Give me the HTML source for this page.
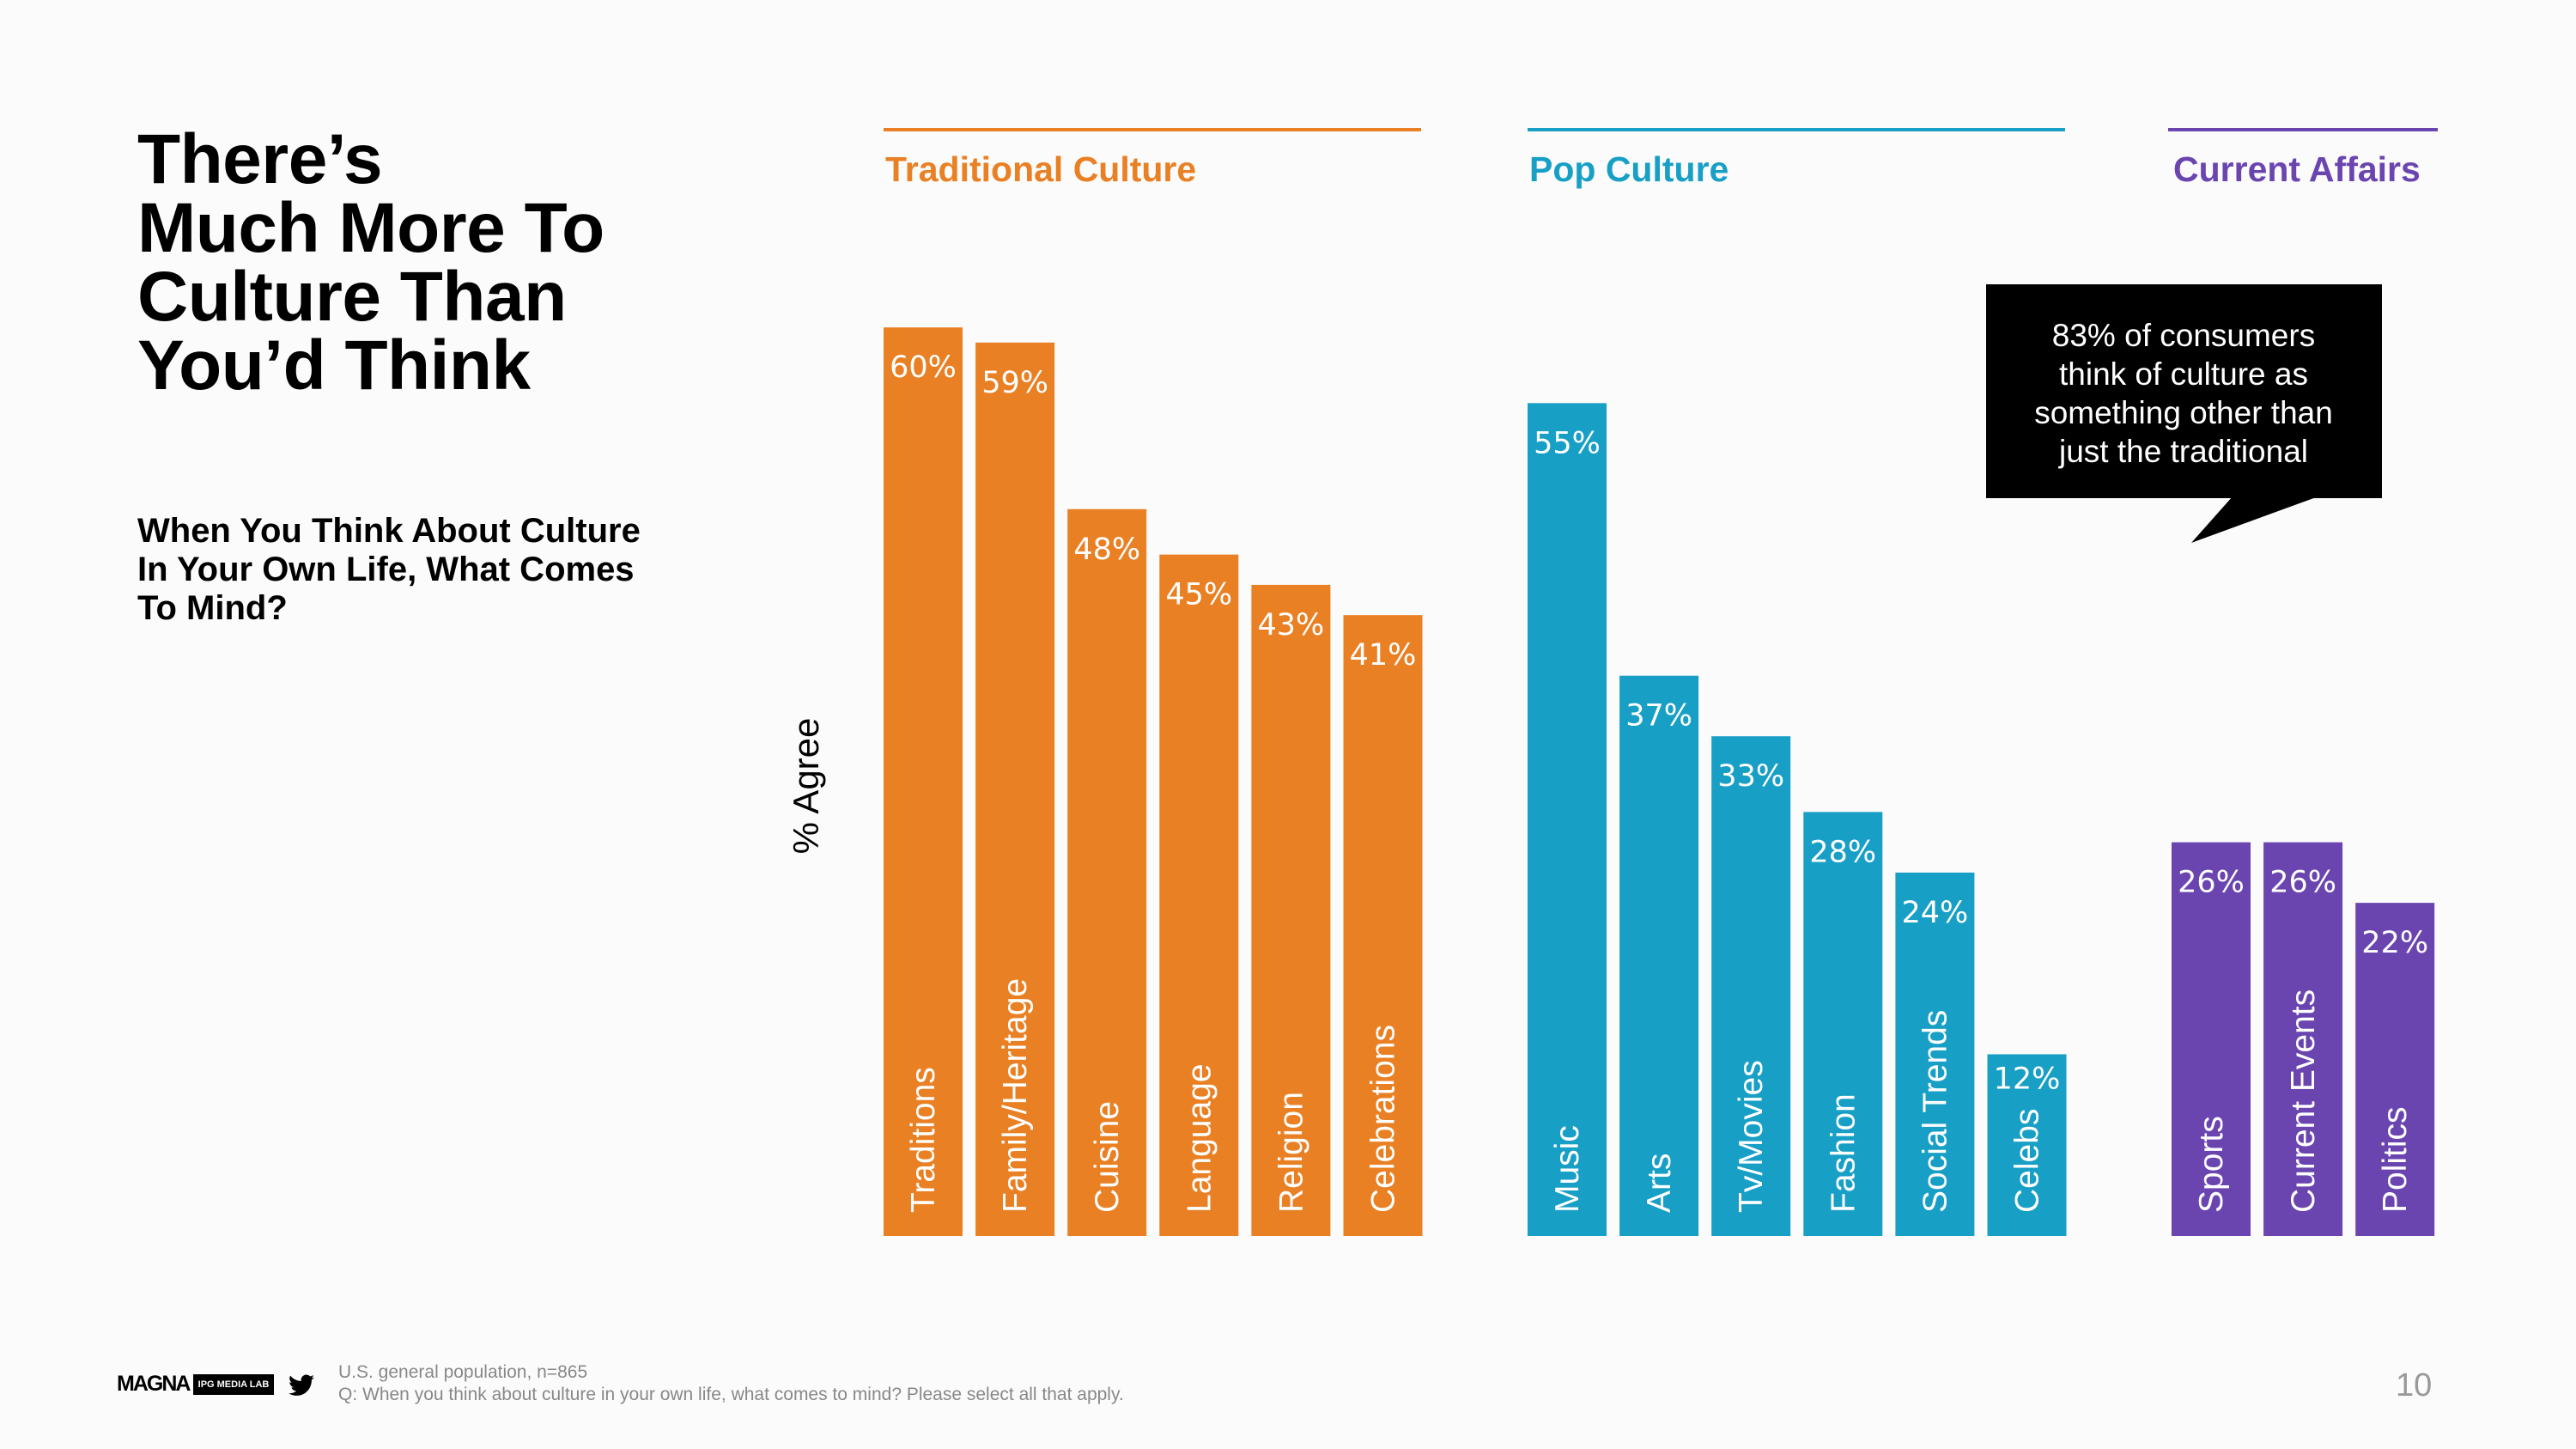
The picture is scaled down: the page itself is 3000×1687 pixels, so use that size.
<!DOCTYPE html>
<html><head><meta charset="utf-8">
<style>
html,body{margin:0;padding:0;background:#fbfbfb;}
body{width:3000px;height:1687px;position:relative;overflow:hidden;font-family:"Liberation Sans",sans-serif;}
.abs{position:absolute;}
</style></head>
<body>
<div class="abs" style="left:160px;top:146px;font-size:82px;font-weight:bold;line-height:80px;color:#000;letter-spacing:-0.5px;">There’s<br>Much More To<br>Culture Than<br>You’d Think</div>
<div class="abs" style="left:160px;top:596px;font-size:40px;font-weight:bold;line-height:45px;color:#000;">When You Think About Culture<br>In Your Own Life, What Comes<br>To Mind?</div>

<svg class="abs" style="left:0;top:0" width="3000" height="1687">
<g id="chart"></g>
</svg>

<div class="abs" style="left:136px;top:1597px;font-size:25px;font-weight:bold;letter-spacing:-2px;">MAGNA</div>
<div class="abs" style="left:225px;top:1600px;width:94px;height:24px;background:#000;color:#fff;font-size:11px;font-weight:bold;line-height:24px;text-align:center;">IPG MEDIA LAB</div>
<svg class="abs" style="left:336px;top:1600px" width="30" height="26" viewBox="0 0 24 20"><path d="M24 2.4a10 10 0 0 1-2.8.8A5 5 0 0 0 23.3.4a10 10 0 0 1-3.1 1.2A4.9 4.9 0 0 0 11.8 6 14 14 0 0 1 1.7.9a4.9 4.9 0 0 0 1.5 6.6A4.9 4.9 0 0 1 1 6.9a4.9 4.9 0 0 0 3.9 4.8 5 5 0 0 1-2.2.1 4.9 4.9 0 0 0 4.6 3.4A9.9 9.9 0 0 1 0 17.3 14 14 0 0 0 7.5 19.5c9 0 14-7.5 14-14v-.6A10 10 0 0 0 24 2.4z" fill="#000"/></svg>
<div class="abs" style="left:394px;top:1585px;font-size:21px;line-height:26px;color:#888;">U.S. general population, n=865<br>Q: When you think about culture in your own life, what comes to mind? Please select all that apply.</div>
<div class="abs" style="left:2790px;top:1592px;font-size:38px;color:#999;">10</div>

<script>
const traditionalCats=["Traditions","Family/Heritage","Cuisine","Language","Religion","Celebrations"];
const traditionalVals=[60,59,48,45,43,41];
const popCats=["Music","Arts","Tv/Movies","Fashion","Social Trends","Celebs"];
const popVals=[55,37,33,28,24,12];
const affairsCats=["Sports","Current Events","Politics"];
const affairsVals=[26,26,22];
const groupNames=["Traditional Culture","Pop Culture","Current Affairs"];

const NS="http://www.w3.org/2000/svg";
const g=document.getElementById('chart');
const baseY=1439, pxPer=17.63, barW=92, step=107.1;
function y(v){return baseY-v*pxPer;}
function mk(tag,attrs,parent){const e=document.createElementNS(NS,tag);for(const k in attrs)e.setAttribute(k,attrs[k]);(parent||g).appendChild(e);return e;}

const groups=[
 {cats:traditionalCats,vals:traditionalVals,x0:1029,color:"#E98024",lineEnd:1655},
 {cats:popCats,vals:popVals,x0:1779,color:"#189FC6",lineEnd:2405},
 {cats:affairsCats,vals:affairsVals,x0:2529,color:"#6A45B0",lineEnd:2839}
];
groups.forEach((gr,gi)=>{
  const hl=mk('line',{x1:gr.x0-(gi==2?4:0),x2:gr.lineEnd,y1:151,y2:151,stroke:gr.color,'stroke-width':4});
  
  
  const ht=mk('text',{x:gr.x0+2,y:211,fill:gr.color,'font-size':41,'font-weight':'bold','font-family':'Liberation Sans, sans-serif'});
  ht.textContent=groupNames[gi];
  
  
  gr.vals.forEach((v,i)=>{
    const x=gr.x0+i*step;
    const r=mk('rect',{x:x,y:y(v),width:barW,height:baseY-y(v),fill:gr.color});
    
    
    const vt=mk('text',{x:x+barW/2,y:y(v)+(v<15?40:58),fill:'#fff','font-size':35,'text-anchor':'middle','font-family':'DejaVu Sans, sans-serif'});
    vt.textContent=v+'%';
    
    
    const ct=mk('text',{transform:`translate(${x+barW/2+13},1412) rotate(-90)`,fill:'#fff','font-size':39,'font-family':'Liberation Sans, sans-serif'});
    ct.textContent=gr.cats[i];
    
    
  });
});
const yl=mk('text',{transform:'translate(953,915) rotate(-90)','font-size':42,'text-anchor':'middle',fill:'#000','font-family':'Liberation Sans, sans-serif'});
yl.textContent='% Agree';


const cb=mk('rect',{x:2313,y:331,width:461,height:249,fill:'#000'});


const tail=mk('polygon',{points:'2600,578 2700,578 2552,632',fill:'#000'});


["83% of consumers","think of culture as","something other than","just the traditional"].forEach((s,i)=>{
  const t=mk('text',{x:2543,y:403+i*45,fill:'#fff','font-size':37,'text-anchor':'middle','font-family':'Liberation Sans, sans-serif'});
  t.textContent=s;
  
  
});
</script>
</body></html>
